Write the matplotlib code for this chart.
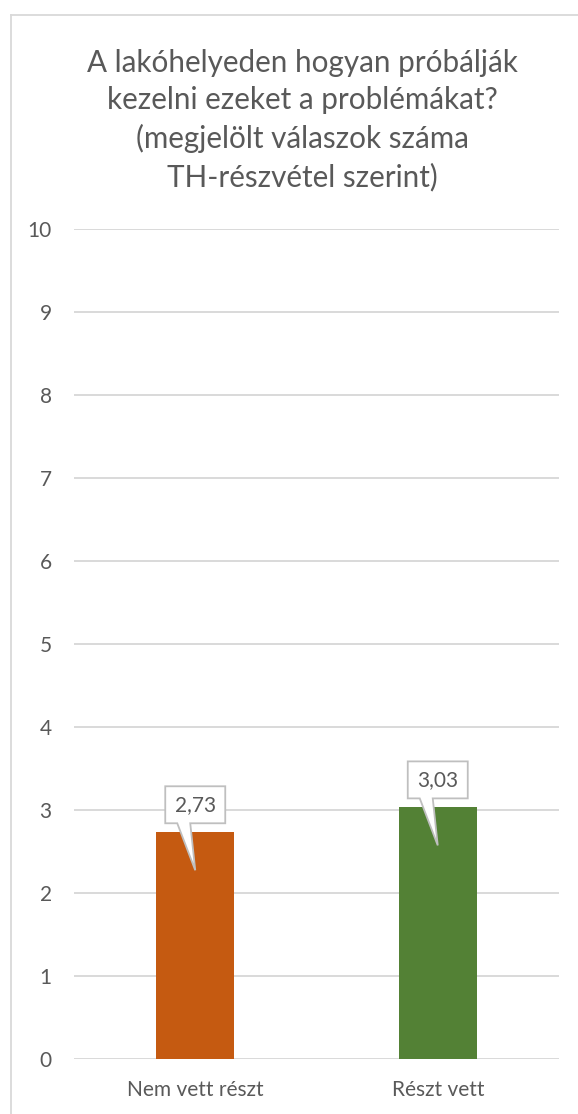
import matplotlib
matplotlib.use("Agg")
import matplotlib.pyplot as plt
import matplotlib.transforms as mtransforms
from matplotlib.patches import Polygon
from matplotlib.lines import Line2D

# Chart data
categories = ["Nem vett részt", "Részt vett"]
values = [2.73, 3.03]
value_labels = ["2,73", "3,03"]
bar_colors = ["#C55A11", "#538135"]
y_ticks = list(range(0, 11))
title = ("A lakóhelyeden hogyan próbálják\n"
         "kezelni ezeket a problémákat?\n"
         "(megjelölt válaszok száma\n"
         "TH-részvétel szerint)")

TEXT = "#595959"
GRID = "#D9D9D9"
FONT = "Lato"

W, H, DPI = 578, 1114, 100
fig = plt.figure(figsize=(W / DPI, H / DPI), dpi=DPI)
fig.patch.set_facecolor("white")

ax = fig.add_axes([74 / W, 1 - 1058.7 / H, 485 / W, (1058.7 - 229.3) / H])
x = list(range(len(categories)))
ax.bar(x, values, width=0.32, color=bar_colors, zorder=2)

ax.set_xlim(-0.5, len(categories) - 0.5)
ax.set_ylim(0, 10)
ax.set_yticks(y_ticks)
ax.set_yticklabels([str(t) for t in y_ticks])
ax.set_xticks(x)
ax.set_xticklabels(categories)
ax.yaxis.grid(True, color=GRID, linewidth=1.4, zorder=0)
ax.set_axisbelow(True)
for s in ax.spines.values():
    s.set_visible(False)
ax.tick_params(axis="both", length=0, labelsize=15, labelcolor=TEXT)
ax.tick_params(axis="y", pad=16)
ax.tick_params(axis="x", pad=15.5)
for lab in ax.get_xticklabels() + ax.get_yticklabels():
    lab.set_fontfamily(FONT)

# Callout data labels: a box above the bar top with a pointer dipping into the bar
px = 1 / DPI
shape = [(-30, 46), (30, 46), (30, 9), (-5, 9), (0, -38), (-18, 9), (-30, 9)]
for xi, v, lab in zip(x, values, value_labels):
    tr = fig.dpi_scale_trans + mtransforms.ScaledTranslation(xi, v, ax.transData)
    poly = Polygon([(a * px, b * px) for a, b in shape], closed=True,
                   facecolor="white", edgecolor="#BFBFBF", linewidth=1.3,
                   transform=tr, zorder=5, clip_on=False)
    ax.add_patch(poly)
    ax.annotate(lab, xy=(xi, v), xytext=(0, 27.5), textcoords="offset pixels",
                ha="center", va="center", fontsize=15, color=TEXT,
                fontfamily=FONT, zorder=6)

# Title
fig.text(302 / W, 1 - 49 / H, title, ha="center", va="top", fontsize=21.3,
         color=TEXT, fontfamily=FONT, linespacing=1.41)

# Chart-area border (left and top edges visible)
fig.add_artist(Line2D([10.5 / W, 10.5 / W], [0, 1 - 14.5 / H],
                      transform=fig.transFigure, color=GRID, linewidth=1.3))
fig.add_artist(Line2D([10.5 / W, 1], [1 - 14.5 / H, 1 - 14.5 / H],
                      transform=fig.transFigure, color=GRID, linewidth=1.3))

fig.savefig("out.png", dpi=DPI, facecolor="white")
